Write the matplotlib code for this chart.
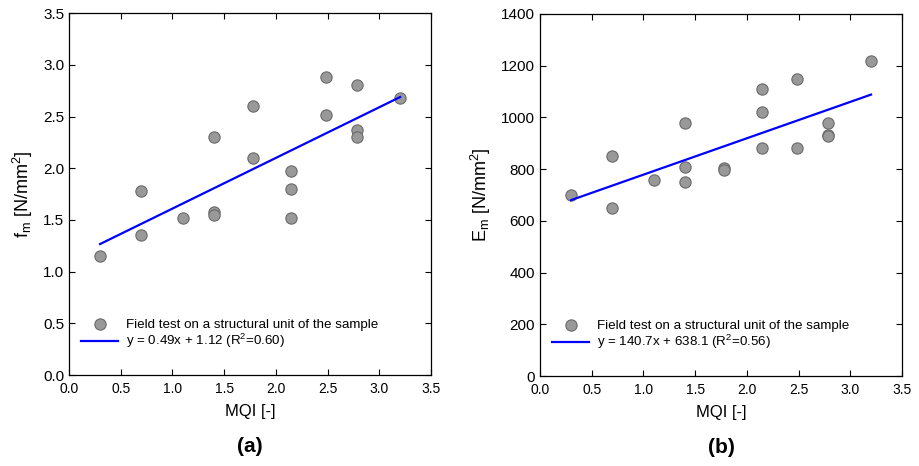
import matplotlib
matplotlib.use("Agg")
import matplotlib.pyplot as plt
import numpy as np

plt.rcParams['font.family'] = ['Liberation Sans', 'DejaVu Sans']

# Data panel (a)
mqi_a = [0.30, 0.70, 0.70, 1.10, 1.40, 1.40, 1.40, 1.78, 1.78, 2.15, 2.15, 2.15, 2.48, 2.48, 2.78, 2.78, 2.78, 3.20]
fm = [1.15, 1.78, 1.35, 1.52, 2.30, 1.58, 1.55, 2.60, 2.10, 1.97, 1.80, 1.52, 2.88, 2.51, 2.80, 2.37, 2.30, 2.68]
fit_a = (0.49, 1.12)
label_a = "y = 0.49x + 1.12 (R$^\\mathregular{2}$=0.60)"

# Data panel (b)
mqi_b = [0.30, 0.70, 0.70, 1.10, 1.40, 1.40, 1.40, 1.78, 1.78, 2.15, 2.15, 2.15, 2.48, 2.48, 2.78, 2.78, 2.78, 3.20]
Em = [700, 850, 650, 760, 980, 810, 750, 805, 795, 1110, 1020, 880, 1150, 880, 980, 932, 928, 1220]
fit_b = (140.7, 638.1)
label_b = "y = 140.7x + 638.1 (R$^\\mathregular{2}$=0.56)"

fit_x = [0.3, 3.2]
scatter_label = "Field test on a structural unit of the sample"

xticks = [0.0, 0.5, 1.0, 1.5, 2.0, 2.5, 3.0, 3.5]
yticks_a = [0.0, 0.5, 1.0, 1.5, 2.0, 2.5, 3.0, 3.5]
yticks_b = [0, 200, 400, 600, 800, 1000, 1200, 1400]

fig = plt.figure(figsize=(9.19, 4.66), dpi=100)
ax1 = fig.add_axes([0.0751, 0.195, 0.394, 0.777])
ax2 = fig.add_axes([0.5876, 0.193, 0.394, 0.777])

panels = [
    (ax1, mqi_a, fm, fit_a, label_a, yticks_a, "f$_\\mathregular{m}$ [N/mm$^\\mathregular{2}$]", "(a)", "{:.1f}"),
    (ax2, mqi_b, Em, fit_b, label_b, yticks_b, "E$_\\mathregular{m}$ [N/mm$^\\mathregular{2}$]", "(b)", "{:d}"),
]

for ax, xs, ys, fit, lab, yt, ylab, tag, fmt in panels:
    ax.scatter(xs, ys, s=66, facecolor='#999999', edgecolor='#6a6a6a', linewidth=0.8,
               zorder=3, label=scatter_label)
    fx = np.array(fit_x)
    ax.plot(fx, fit[0] * fx + fit[1], color='#0000ff', lw=1.6, zorder=4, label=lab)
    ax.set_xlim(0, 3.5)
    ax.set_ylim(yt[0], yt[-1])
    ax.set_xticks(xticks)
    ax.set_yticks(yt)
    ax.set_xticklabels([f"{v:.1f}" for v in xticks], fontsize=10)
    ax.set_yticklabels([fmt.format(v) for v in yt], fontsize=11)
    ax.tick_params(axis='x', pad=5)
    ax.tick_params(direction='in', top=True, right=True, length=4, width=0.8)
    ax.set_xlabel("MQI [-]", fontsize=12, labelpad=6)
    ax.set_ylabel(ylab, fontsize=13, labelpad=6)
    for sp in ax.spines.values():
        sp.set_linewidth(0.9)
    ax.legend(loc='lower left', bbox_to_anchor=(0.015, 0.05), frameon=False,
              fontsize=9.6, handlelength=2.8, handletextpad=0.55, borderpad=0,
              labelspacing=0.1)
    ax.text(0.5, -0.17, tag, transform=ax.transAxes, ha='center', va='top',
            fontsize=15, fontweight='bold')

fig.savefig("out.png", dpi=100)
